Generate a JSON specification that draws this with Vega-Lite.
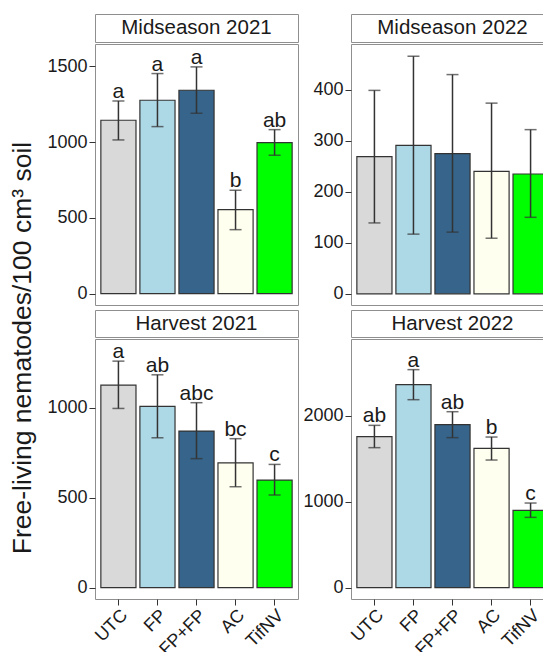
{
  "$schema": "https://vega.github.io/schema/vega-lite/v6.json",
  "background": "white",
  "padding": {"left": 0, "top": 13, "right": 0, "bottom": 0},
  "config": {
    "font": "Liberation Sans",
    "view": {"stroke": "#8f8f8f", "strokeWidth": 1},
    "axis": {"grid": false, "domain": false, "tickColor": "#333333", "tickSize": 6, "tickWidth": 1, "labelColor": "#1a1a1a", "labelFontSize": 18, "labelPadding": 2, "labelFont": "Liberation Sans"},
    "axisQuantitative": {"format": "d"}
  },
  "datasets": {
    "d": [
      {"panel": "Midseason 2021", "trt": "UTC", "mean": 1144, "lo": 1014, "hi": 1271, "letter": "a"},
      {"panel": "Midseason 2021", "trt": "FP", "mean": 1276, "lo": 1102, "hi": 1452, "letter": "a"},
      {"panel": "Midseason 2021", "trt": "FP+FP", "mean": 1342, "lo": 1190, "hi": 1496, "letter": "a"},
      {"panel": "Midseason 2021", "trt": "AC", "mean": 554, "lo": 422, "hi": 682, "letter": "b"},
      {"panel": "Midseason 2021", "trt": "TifNV", "mean": 996, "lo": 913, "hi": 1082, "letter": "ab"},
      {"panel": "Midseason 2022", "trt": "UTC", "mean": 269, "lo": 139, "hi": 399, "letter": ""},
      {"panel": "Midseason 2022", "trt": "FP", "mean": 291, "lo": 117, "hi": 466, "letter": ""},
      {"panel": "Midseason 2022", "trt": "FP+FP", "mean": 275, "lo": 121, "hi": 430, "letter": ""},
      {"panel": "Midseason 2022", "trt": "AC", "mean": 240, "lo": 109, "hi": 374, "letter": ""},
      {"panel": "Midseason 2022", "trt": "TifNV", "mean": 235, "lo": 150, "hi": 322, "letter": ""},
      {"panel": "Harvest 2021", "trt": "UTC", "mean": 1126, "lo": 996, "hi": 1259, "letter": "a"},
      {"panel": "Harvest 2021", "trt": "FP", "mean": 1007, "lo": 833, "hi": 1183, "letter": "ab"},
      {"panel": "Harvest 2021", "trt": "FP+FP", "mean": 870, "lo": 717, "hi": 1028, "letter": "abc"},
      {"panel": "Harvest 2021", "trt": "AC", "mean": 693, "lo": 561, "hi": 828, "letter": "bc"},
      {"panel": "Harvest 2021", "trt": "TifNV", "mean": 598, "lo": 515, "hi": 685, "letter": "c"},
      {"panel": "Harvest 2022", "trt": "UTC", "mean": 1759, "lo": 1631, "hi": 1891, "letter": "ab"},
      {"panel": "Harvest 2022", "trt": "FP", "mean": 2365, "lo": 2190, "hi": 2540, "letter": "a"},
      {"panel": "Harvest 2022", "trt": "FP+FP", "mean": 1899, "lo": 1748, "hi": 2050, "letter": "ab"},
      {"panel": "Harvest 2022", "trt": "AC", "mean": 1623, "lo": 1487, "hi": 1755, "letter": "b"},
      {"panel": "Harvest 2022", "trt": "TifNV", "mean": 901, "lo": 819, "hi": 986, "letter": "c"}
    ]
  },
  "spacing": 0,
  "hconcat": [
    {
      "width": 46, "height": 668,
      "view": {"stroke": null},
      "data": {"values": [{"t": "Free-living nematodes/100 cm³ soil"}]},
      "mark": {"type": "text", "angle": 270, "fontSize": 26.5, "align": "center", "baseline": "middle", "color": "#1a1a1a"},
      "encoding": {"text": {"field": "t", "type": "nominal"}}
    },
    {
      "spacing": 3,
      "hconcat": [
        {
          "spacing": 3,
          "vconcat": [
            {
              "spacing": 0,
              "vconcat": [
                {"width": 203, "height": 28, "view": {"fill": "white", "stroke": "#8f8f8f"}, "data": {"values": [{"s": "Midseason 2021"}]}, "mark": {"type": "text", "fontSize": 20.5, "color": "#1a1a1a", "baseline": "middle"}, "encoding": {"text": {"field": "s", "type": "nominal"}}},
                {
                  "width": 203, "height": 261,
                  "data": {"name": "d"},
                  "transform": [{"filter": "datum.panel === 'Midseason 2021'"}],
                  "encoding": {"x": {"field": "trt", "type": "nominal", "sort": ["UTC", "FP", "FP+FP", "AC", "TifNV"], "scale": {"paddingInner": 0.1, "paddingOuter": 0.15}, "axis": null}},
                  "layer": [
                    {"mark": {"type": "bar", "stroke": "#333333", "strokeWidth": 1.2}, "encoding": {"y": {"field": "mean", "type": "quantitative", "title": null, "scale": {"domain": [-75, 1647], "nice": false, "zero": false}, "axis": {"values": [0, 500, 1000, 1500]}}, "y2": {"datum": 0}, "color": {"field": "trt", "type": "nominal", "scale": {"domain": ["UTC", "FP", "FP+FP", "AC", "TifNV"], "range": ["#D9D9D9", "#ADD8E6", "#36648B", "#FFFFF0", "#00FF00"]}, "legend": null}}},
                    {"mark": {"type": "rule", "color": "#333333", "strokeWidth": 1.5}, "encoding": {"y": {"field": "lo", "type": "quantitative", "title": null}, "y2": {"field": "hi"}}},
                    {"mark": {"type": "tick", "color": "#333333", "thickness": 1.5, "size": 12}, "encoding": {"y": {"field": "lo", "type": "quantitative", "title": null}}},
                    {"mark": {"type": "tick", "color": "#333333", "thickness": 1.5, "size": 12}, "encoding": {"y": {"field": "hi", "type": "quantitative", "title": null}}},
                    {"mark": {"type": "text", "baseline": "alphabetic", "dy": -3, "fontSize": 21, "color": "#1a1a1a"}, "encoding": {"y": {"field": "hi", "type": "quantitative", "title": null}, "text": {"field": "letter", "type": "nominal"}}}
                  ]
                }
              ]
            },
            {
              "spacing": 0,
              "vconcat": [
                {"width": 203, "height": 27, "view": {"fill": "white", "stroke": "#8f8f8f"}, "data": {"values": [{"s": "Harvest 2021"}]}, "mark": {"type": "text", "fontSize": 20.5, "color": "#1a1a1a", "baseline": "middle"}, "encoding": {"text": {"field": "s", "type": "nominal"}}},
                {
                  "width": 203, "height": 260,
                  "data": {"name": "d"},
                  "transform": [{"filter": "datum.panel === 'Harvest 2021'"}],
                  "encoding": {"x": {"field": "trt", "type": "nominal", "sort": ["UTC", "FP", "FP+FP", "AC", "TifNV"], "scale": {"paddingInner": 0.1, "paddingOuter": 0.15}, "axis": {"title": null, "labelAngle": -45, "labelAlign": "right", "labelBaseline": "top", "labelPadding": 1}}},
                  "layer": [
                    {"mark": {"type": "bar", "stroke": "#333333", "strokeWidth": 1.2}, "encoding": {"y": {"field": "mean", "type": "quantitative", "title": null, "scale": {"domain": [-63, 1382], "nice": false, "zero": false}, "axis": {"values": [0, 500, 1000]}}, "y2": {"datum": 0}, "color": {"field": "trt", "type": "nominal", "scale": {"domain": ["UTC", "FP", "FP+FP", "AC", "TifNV"], "range": ["#D9D9D9", "#ADD8E6", "#36648B", "#FFFFF0", "#00FF00"]}, "legend": null}}},
                    {"mark": {"type": "rule", "color": "#333333", "strokeWidth": 1.5}, "encoding": {"y": {"field": "lo", "type": "quantitative", "title": null}, "y2": {"field": "hi"}}},
                    {"mark": {"type": "tick", "color": "#333333", "thickness": 1.5, "size": 12}, "encoding": {"y": {"field": "lo", "type": "quantitative", "title": null}}},
                    {"mark": {"type": "tick", "color": "#333333", "thickness": 1.5, "size": 12}, "encoding": {"y": {"field": "hi", "type": "quantitative", "title": null}}},
                    {"mark": {"type": "text", "baseline": "alphabetic", "dy": -3, "fontSize": 21, "color": "#1a1a1a"}, "encoding": {"y": {"field": "hi", "type": "quantitative", "title": null}, "text": {"field": "letter", "type": "nominal"}}}
                  ]
                }
              ]
            }
          ]
        },
        {
          "spacing": 3,
          "vconcat": [
            {
              "spacing": 0,
              "vconcat": [
                {"width": 203, "height": 28, "view": {"fill": "white", "stroke": "#8f8f8f"}, "data": {"values": [{"s": "Midseason 2022"}]}, "mark": {"type": "text", "fontSize": 20.5, "color": "#1a1a1a", "baseline": "middle"}, "encoding": {"text": {"field": "s", "type": "nominal"}}},
                {
                  "width": 203, "height": 261,
                  "data": {"name": "d"},
                  "transform": [{"filter": "datum.panel === 'Midseason 2022'"}],
                  "encoding": {"x": {"field": "trt", "type": "nominal", "sort": ["UTC", "FP", "FP+FP", "AC", "TifNV"], "scale": {"paddingInner": 0.1, "paddingOuter": 0.15}, "axis": null}},
                  "layer": [
                    {"mark": {"type": "bar", "stroke": "#333333", "strokeWidth": 1.2}, "encoding": {"y": {"field": "mean", "type": "quantitative", "title": null, "scale": {"domain": [-22, 490], "nice": false, "zero": false}, "axis": {"values": [0, 100, 200, 300, 400]}}, "y2": {"datum": 0}, "color": {"field": "trt", "type": "nominal", "scale": {"domain": ["UTC", "FP", "FP+FP", "AC", "TifNV"], "range": ["#D9D9D9", "#ADD8E6", "#36648B", "#FFFFF0", "#00FF00"]}, "legend": null}}},
                    {"mark": {"type": "rule", "color": "#333333", "strokeWidth": 1.5}, "encoding": {"y": {"field": "lo", "type": "quantitative", "title": null}, "y2": {"field": "hi"}}},
                    {"mark": {"type": "tick", "color": "#333333", "thickness": 1.5, "size": 12}, "encoding": {"y": {"field": "lo", "type": "quantitative", "title": null}}},
                    {"mark": {"type": "tick", "color": "#333333", "thickness": 1.5, "size": 12}, "encoding": {"y": {"field": "hi", "type": "quantitative", "title": null}}}
                  ]
                }
              ]
            },
            {
              "spacing": 0,
              "vconcat": [
                {"width": 203, "height": 27, "view": {"fill": "white", "stroke": "#8f8f8f"}, "data": {"values": [{"s": "Harvest 2022"}]}, "mark": {"type": "text", "fontSize": 20.5, "color": "#1a1a1a", "baseline": "middle"}, "encoding": {"text": {"field": "s", "type": "nominal"}}},
                {
                  "width": 203, "height": 260,
                  "data": {"name": "d"},
                  "transform": [{"filter": "datum.panel === 'Harvest 2022'"}],
                  "encoding": {"x": {"field": "trt", "type": "nominal", "sort": ["UTC", "FP", "FP+FP", "AC", "TifNV"], "scale": {"paddingInner": 0.1, "paddingOuter": 0.15}, "axis": {"title": null, "labelAngle": -45, "labelAlign": "right", "labelBaseline": "top", "labelPadding": 1}}},
                  "layer": [
                    {"mark": {"type": "bar", "stroke": "#333333", "strokeWidth": 1.2}, "encoding": {"y": {"field": "mean", "type": "quantitative", "title": null, "scale": {"domain": [-132, 2897], "nice": false, "zero": false}, "axis": {"values": [0, 1000, 2000]}}, "y2": {"datum": 0}, "color": {"field": "trt", "type": "nominal", "scale": {"domain": ["UTC", "FP", "FP+FP", "AC", "TifNV"], "range": ["#D9D9D9", "#ADD8E6", "#36648B", "#FFFFF0", "#00FF00"]}, "legend": null}}},
                    {"mark": {"type": "rule", "color": "#333333", "strokeWidth": 1.5}, "encoding": {"y": {"field": "lo", "type": "quantitative", "title": null}, "y2": {"field": "hi"}}},
                    {"mark": {"type": "tick", "color": "#333333", "thickness": 1.5, "size": 12}, "encoding": {"y": {"field": "lo", "type": "quantitative", "title": null}}},
                    {"mark": {"type": "tick", "color": "#333333", "thickness": 1.5, "size": 12}, "encoding": {"y": {"field": "hi", "type": "quantitative", "title": null}}},
                    {"mark": {"type": "text", "baseline": "alphabetic", "dy": -3, "fontSize": 21, "color": "#1a1a1a"}, "encoding": {"y": {"field": "hi", "type": "quantitative", "title": null}, "text": {"field": "letter", "type": "nominal"}}}
                  ]
                }
              ]
            }
          ]
        }
      ]
    }
  ]
}
